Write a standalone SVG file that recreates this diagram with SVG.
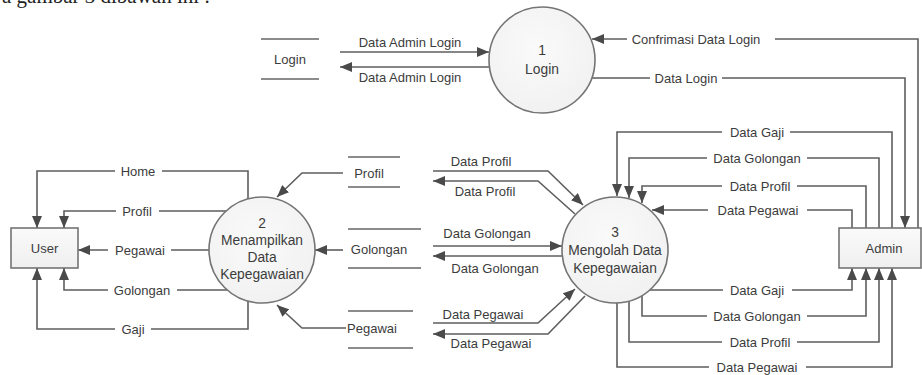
<svg xmlns="http://www.w3.org/2000/svg" width="922" height="375" viewBox="0 0 922 375">
<style>
text{font-family:"Liberation Sans",Arial,sans-serif;font-size:13px;fill:#3c3c3c;text-anchor:middle}
.pt{font-size:13.8px}
.proc{fill:url(#cg);stroke:#747474;stroke-width:1.6}
.ent{fill:url(#bg);stroke:#747474;stroke-width:1.6}
.store{stroke:#666;stroke-width:1.6}
.c{fill:none;stroke:#5e5e5e;stroke-width:1.6}
.a{marker-end:url(#ah)}
.cap{font-family:"Liberation Serif","Times New Roman",serif;font-size:21px;fill:#222;text-anchor:start}
</style>
<defs>
<radialGradient id="cg" cx="0.45" cy="0.4" r="0.7"><stop offset="0" stop-color="#fafafa"/><stop offset="1" stop-color="#f0f0f0"/></radialGradient>
<linearGradient id="bg" x1="0" y1="0" x2="0" y2="1"><stop offset="0" stop-color="#fafafa"/><stop offset="1" stop-color="#efefef"/></linearGradient>
<marker id="ah" markerUnits="userSpaceOnUse" markerWidth="12" markerHeight="10" viewBox="0 0 12 10" refX="12" refY="5" orient="auto"><path d="M0,0 L12,5 L0,10 Z" fill="#4a4a4a"/></marker>
</defs>
<rect width="922" height="375" fill="#fff"/>
<text class="cap" x="2" y="3">a gambar 3 dibawah ini :</text>

<g id="connectors">
<path class="c a" d="M340 52 H489"/>
<path class="c a" d="M489 67 H340"/>
<path class="c a" d="M918 228 V39 H775 M627 39 H592"/>
<path class="c a" d="M592 78 H650 M722 78 H905 V228"/>
<path class="c a" d="M892 228 V132 H790 M722 132 H617 V196"/>
<path class="c a" d="M879 228 V158 H807 M707 158 H629 V198"/>
<path class="c a" d="M866 228 V186 H797 M722 186 H642 V203"/>
<path class="c a" d="M852 228 V210 H807 M708 210 H652"/>
<path class="c a" d="M650 290 H723 M792 290 H852 V268"/>
<path class="c a" d="M642 296 V316 H707 M807 316 H866 V268"/>
<path class="c a" d="M629 301 V342 H722 M797 342 H879 V268"/>
<path class="c a" d="M617 303 V367 H709 M806 367 H892 V268"/>
<path class="c a" d="M433 171 H548 L583 205"/>
<path class="c a" d="M575 214 L538 181 H433"/>
<path class="c a" d="M433 246 H562"/>
<path class="c a" d="M563 256 H433"/>
<path class="c a" d="M433 323 H538 L575 289"/>
<path class="c a" d="M585 296 L548 334 H433"/>
<path class="c a" d="M343 173 H302 L277 197"/>
<path class="c a" d="M343 250 H315"/>
<path class="c a" d="M346 328 H302 L277 305"/>
<path class="c a" d="M248 199 V171 H162 M115 171 H37 V228"/>
<path class="c a" d="M227 211 H159 M116 211 H64 V228"/>
<path class="c a" d="M209 250 H171 M108 250 H78"/>
<path class="c a" d="M227 290 H177 M108 290 H64 V268"/>
<path class="c a" d="M248 301 V329 H151 M115 329 H37 V268"/>
</g>

<g id="labels">
<text x="410" y="46.5">Data Admin Login</text>
<text x="410" y="81.5">Data Admin Login</text>
<text x="696" y="43.5">Confrimasi Data Login</text>
<text x="686" y="82.5">Data Login</text>
<text x="757" y="136.5">Data Gaji</text>
<text x="757" y="162.5">Data Golongan</text>
<text x="760" y="190.5">Data Profil</text>
<text x="758" y="214.5">Data Pegawai</text>
<text x="757" y="294.5">Data Gaji</text>
<text x="757" y="320.5">Data Golongan</text>
<text x="760" y="346.5">Data Profil</text>
<text x="757" y="371.5">Data Pegawai</text>
<text x="481" y="165.5">Data Profil</text>
<text x="485" y="195.5">Data Profil</text>
<text x="487" y="237.5">Data Golongan</text>
<text x="495" y="272.5">Data Golongan</text>
<text x="483" y="318.5">Data Pegawai</text>
<text x="491" y="347.5">Data Pegawai</text>
<text x="138" y="175.5">Home</text>
<text x="137" y="215.5">Profil</text>
<text x="140" y="254.5">Pegawai</text>
<text x="142" y="294.5">Golongan</text>
<text x="133" y="333.5">Gaji</text>
</g>

<g id="store-login">
<line class="store" x1="261" y1="39" x2="319" y2="39"/>
<line class="store" x1="261" y1="79" x2="319" y2="79"/>
<text x="290" y="63.5">Login</text>
</g>
<g id="store-profil">
<line class="store" x1="348" y1="157" x2="400" y2="157"/>
<line class="store" x1="348" y1="187" x2="400" y2="187"/>
<text x="369" y="177.5">Profil</text>
</g>
<g id="store-golongan">
<line class="store" x1="348" y1="229" x2="421" y2="229"/>
<line class="store" x1="348" y1="268" x2="421" y2="268"/>
<text x="379" y="253.5">Golongan</text>
</g>
<g id="store-pegawai">
<line class="store" x1="348" y1="311" x2="413" y2="311"/>
<line class="store" x1="348" y1="348" x2="413" y2="348"/>
<text x="372" y="332.5">Pegawai</text>
</g>

<g id="process-1">
<circle class="proc" cx="542" cy="60" r="53"/>
<text class="pt" x="542" y="55">1</text>
<text class="pt" x="542" y="74">Login</text>
</g>
<g id="process-2">
<circle class="proc" cx="262" cy="250" r="53"/>
<text class="pt" x="262" y="228">2</text>
<text class="pt" x="262" y="245">Menampilkan</text>
<text class="pt" x="262" y="262">Data</text>
<text class="pt" x="262" y="279">Kepegawaian</text>
</g>
<g id="process-3">
<circle class="proc" cx="615" cy="250" r="53"/>
<text class="pt" x="615" y="237">3</text>
<text class="pt" x="615" y="255">Mengolah Data</text>
<text class="pt" x="615" y="273">Kepegawaian</text>
</g>
<g id="entity-user">
<rect class="ent" x="11" y="228" width="67" height="40"/>
<text x="44.5" y="252.5">User</text>
</g>
<g id="entity-admin">
<rect class="ent" x="839" y="228" width="82" height="40"/>
<text x="884" y="252.5">Admin</text>
</g>
</svg>
